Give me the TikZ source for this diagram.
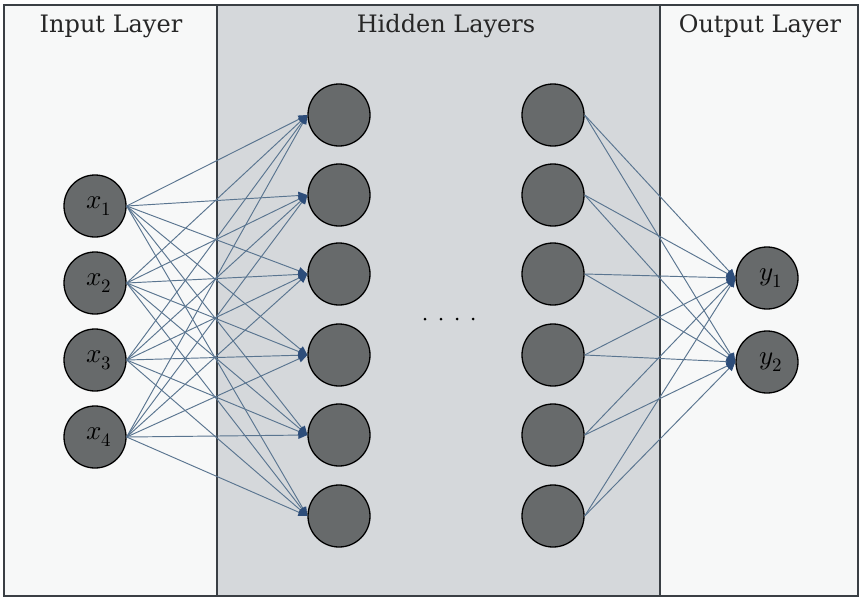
\documentclass[tikz,border=0pt]{standalone}
\usepackage{fontspec}
\setmainfont{DejaVu Serif}
\usepackage{unicode-math}
\usetikzlibrary{arrows.meta}
\definecolor{panel}{HTML}{F7F8F8}
\definecolor{midpanel}{HTML}{D5D8DB}
\definecolor{nodefill}{HTML}{676A6B}
\definecolor{edge}{HTML}{5A7590}
\definecolor{tip}{HTML}{2D4D7A}
\definecolor{frame}{HTML}{3A3F44}
\newcommand{\lbl}[1]{{\fontsize{27}{28}\selectfont\hspace{8pt}$#1$}}
\tikzset{
  neuron/.style={circle, draw=black, line width=1.3pt, fill=nodefill, minimum size=62pt, inner sep=0pt},
  conn/.style={draw=edge, line width=0.95pt, -{Triangle[length=9pt,width=7.5pt,fill=tip,color=tip]}},
  title/.style={font=\fontsize{24}{28}\selectfont, text=black!85}
}
\begin{document}
\begin{tikzpicture}[x=1pt,y=-1pt]
\useasboundingbox (0,0) rectangle (864,600);
\fill[white] (0,0) rectangle (864,600);
\fill[panel] (4,5) rectangle (217,596);
\fill[midpanel] (217,5) rectangle (660,596);
\fill[panel] (660,5) rectangle (858,596);
\draw[frame, line width=1.5pt] (4,5) rectangle (858,596);
\draw[frame, line width=1.5pt] (217,5) -- (217,596);
\draw[frame, line width=1.5pt] (660,5) -- (660,596);
\node[title] (tin) at (111,26) {Input Layer};
\node[title] (thid) at (446,26) {Hidden Layers};
\node[title] (tout) at (760,26) {Output Layer};
% input
\foreach \i/\y in {1/206,2/283,3/360,4/437}
  \node[neuron] (x\i) at (95,\y) {\lbl{x_{\i}}};
% hidden
\foreach \j/\y in {1/115,2/195,3/274,4/355,5/435,6/516}{
  \node[neuron] (h\j) at (339,\y) {};
  \node[neuron] (g\j) at (553,\y) {};
}
% output
\node[neuron] (y1) at (767,278) {\lbl{y_{1}}};
\node[neuron] (y2) at (767,362) {\lbl{y_{2}}};
% dots
\foreach \k/\xx in {1/425,2/441,3/457,4/473}
  \fill[black] (\xx,319) circle (1.5pt);
% connections
\foreach \i in {1,...,4}
  \foreach \j in {1,...,6}
    \draw[conn] (x\i.east) -- (h\j.west);
\foreach \j in {1,...,6}
  \foreach \k in {1,2}
    \draw[conn] (g\j.east) -- (y\k.west);
\end{tikzpicture}
\end{document}
